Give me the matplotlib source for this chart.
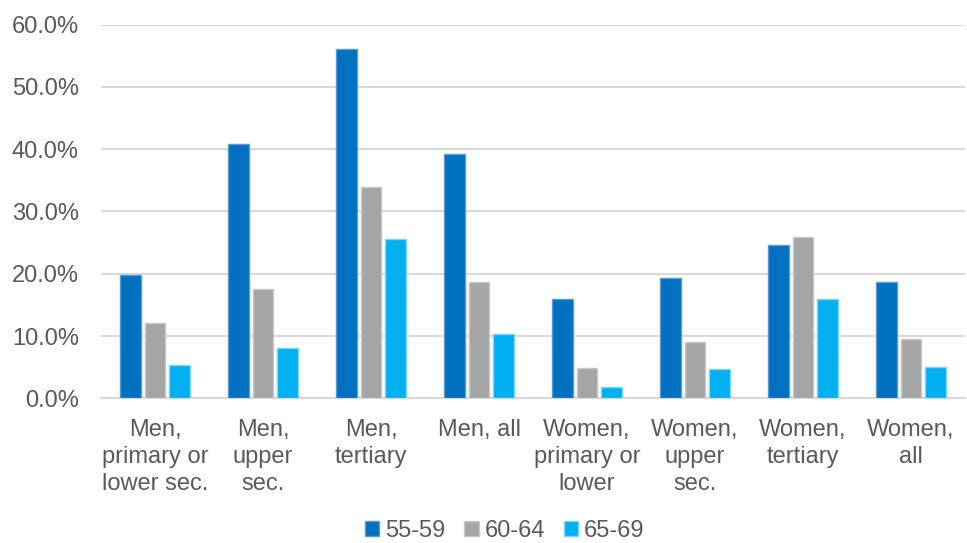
import matplotlib.pyplot as plt
import numpy as np

plt.rcParams['font.family'] = ['Liberation Sans', 'DejaVu Sans']

# Категории и значения (доли)
categories = ["Men,\nprimary or\nlower sec.", "Men,\nupper\nsec.", "Men,\ntertiary", "Men, all",
              "Women,\nprimary or\nlower", "Women,\nupper\nsec.", "Women,\ntertiary", "Women,\nall"]
age_55_59 = [0.198, 0.408, 0.561, 0.393, 0.159, 0.193, 0.246, 0.186]
age_60_64 = [0.121, 0.175, 0.339, 0.187, 0.048, 0.091, 0.259, 0.095]
age_65_69 = [0.054, 0.081, 0.256, 0.103, 0.018, 0.047, 0.159, 0.051]
series_names = ["55-59", "60-64", "65-69"]

colors = ["#0070C0", "#A5A5A5", "#00B0F0"]
edges = ["#5B9BD5", "#C8C8C8", "#7FD3F5"]
text_color = "#595959"

fig = plt.figure(figsize=(9.67, 5.43), dpi=100)
ax = fig.add_axes([0.1045, 0.2665, 0.8935, 0.688])

x = np.arange(len(categories))
step = 0.227
width = 0.19
for i, (vals, name) in enumerate(zip([age_55_59, age_60_64, age_65_69], series_names)):
    ax.bar(x + (i - 1) * step, vals, width, color=colors[i], edgecolor=edges[i],
           linewidth=1.0, label=name, zorder=3)

ax.set_xlim(-0.5, len(categories) - 0.5)
ax.set_ylim(0, 0.6)
ax.set_yticks(np.arange(0, 0.61, 0.1))
ax.set_yticklabels([f"{v * 100:.1f}%" for v in np.arange(0, 0.61, 0.1)])
ax.yaxis.grid(True, color="#D9D9D9", linewidth=1.5, zorder=0)
ax.set_xticks(x)
ax.set_xticklabels(categories, linespacing=1.3, va="top")
ax.tick_params(axis="both", length=0, labelsize=17, colors=text_color)
ax.tick_params(axis="x", pad=15)
ax.tick_params(axis="y", pad=16)
for s in ["top", "right", "left"]:
    ax.spines[s].set_visible(False)
ax.spines["bottom"].set_color("#D9D9D9")
ax.spines["bottom"].set_linewidth(1.5)

leg = fig.legend(loc="center", ncol=3, frameon=False, fontsize=17,
                 bbox_to_anchor=(0.522, 0.022), handlelength=0.6, handleheight=0.6,
                 handletextpad=0.25, columnspacing=0.8, borderpad=0.1)
for t in leg.get_texts():
    t.set_color(text_color)

fig.savefig("out.png", dpi=100)
